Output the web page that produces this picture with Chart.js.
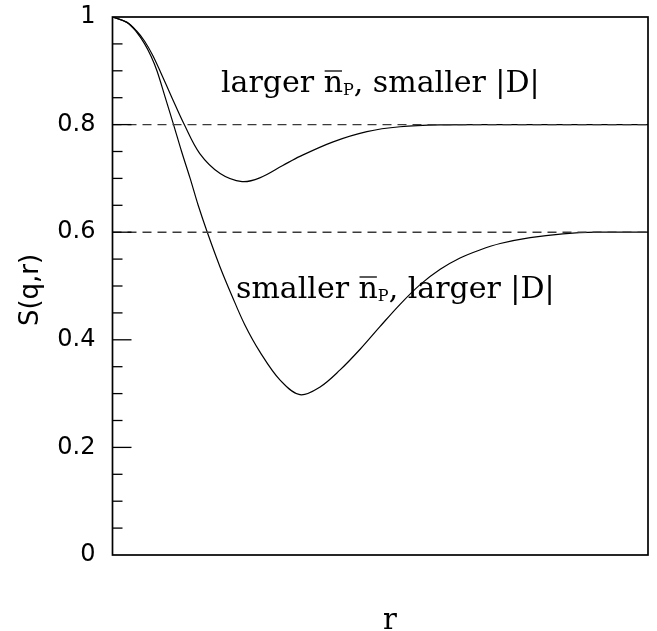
<!DOCTYPE html>
<html>
<head>
<meta charset="utf-8">
<script src="https://cdn.jsdelivr.net/npm/chart.js@4.4.1/dist/chart.umd.min.js"></script>
<style>
  html, body { margin: 0; padding: 0; background: #ffffff; }
  #wrap { width: 657px; height: 631px; }
</style>
</head>
<body>
<div id="wrap"><canvas id="c" width="657" height="631"></canvas></div>
<script>
// ---- data ----
const rUpper = [0, 0.27, 0.45, 0.60, 0.75, 0.90, 1.11, 1.34, 1.63, 2.01, 2.42, 2.75, 3.18, 3.50, 4.12, 4.75, 5.37, 6.12, 7.24, 10];
const sUpper = [1.0, 0.99, 0.974, 0.955, 0.929, 0.897, 0.85, 0.80, 0.746, 0.709, 0.694, 0.701, 0.724, 0.741, 0.768, 0.787, 0.796, 0.7995, 0.80, 0.80];

const rLower = [0, 0.27, 0.45, 0.60, 0.72, 0.83, 0.98, 1.14, 1.29, 1.45, 1.60, 1.77, 2.01, 2.23, 2.47, 2.75, 3.13, 3.50, 3.87, 4.25, 4.62, 4.99, 5.37, 5.75, 6.12, 6.49, 6.86, 7.24, 7.80, 8.41, 9.05, 10];
const sLower = [1.0, 0.99, 0.972, 0.95, 0.927, 0.90, 0.852, 0.80, 0.75, 0.70, 0.65, 0.60, 0.535, 0.482, 0.428, 0.378, 0.325, 0.298, 0.312, 0.344, 0.382, 0.424, 0.466, 0.503, 0.531, 0.552, 0.567, 0.579, 0.590, 0.597, 0.600, 0.600];

const rRange = [0, 10];
const levelUpper = [0.8, 0.8];
const levelLower = [0.6, 0.6];

const yTickValues = [0, 0.2, 0.4, 0.6, 0.8, 1];
const yTickLabels = ['0', '0.2', '0.4', '0.6', '0.8', '1'];
const yMinorStep = 0.05;

const yTitle = 'S(q,r)';
const xTitle = 'r';
const noteUpper = ['larger ', 'n', 'P', ', smaller |D|'];
const noteLower = ['smaller ', 'n', 'P', ', larger |D|'];

function pts(xs, ys) { return xs.map((x, i) => ({ x: x, y: ys[i] })); }

const SERIF = '"DejaVu Serif", "Liberation Serif", serif';
const SANS = '"DejaVu Sans", "Liberation Sans", sans-serif';

const framePlugin = {
  id: 'frame',
  afterDatasetsDraw(chart) {
    const ctx = chart.ctx;
    const a = chart.chartArea;
    const y = chart.scales.y;
    ctx.save();
    ctx.strokeStyle = '#000';
    ctx.lineWidth = 1.3;
    const n = Math.round(1 / yMinorStep);
    for (let i = 1; i < n; i++) {
      const v = i * yMinorStep;
      const major = yTickValues.some(t => Math.abs(t - v) < 1e-9);
      const py = y.getPixelForValue(v);
      ctx.beginPath();
      ctx.moveTo(a.left, py);
      ctx.lineTo(a.left + (major ? 19 : 10), py);
      ctx.stroke();
    }
    ctx.lineWidth = 1.7;
    ctx.strokeRect(a.left, a.top, a.right - a.left, a.bottom - a.top);
    ctx.restore();
  },
  afterDraw(chart) {
    const ctx = chart.ctx;
    ctx.save();
    ctx.fillStyle = '#000';
    ctx.strokeStyle = '#000';
    ctx.font = '29px ' + SERIF;
    ctx.textAlign = 'center';
    ctx.textBaseline = 'alphabetic';
    ctx.fillText(xTitle, 390, 629);
    ctx.save();
    ctx.translate(31, 290);
    ctx.rotate(-Math.PI / 2);
    ctx.font = '26px ' + SANS;
    ctx.textBaseline = 'middle';
    ctx.fillText(yTitle, 0, 0);
    ctx.restore();

    function note(parts, x0, base) {
      ctx.textAlign = 'left';
      ctx.textBaseline = 'alphabetic';
      let x = x0;
      ctx.font = '30px ' + SERIF;
      ctx.fillText(parts[0], x, base);
      x += ctx.measureText(parts[0]).width;
      const wn = ctx.measureText(parts[1]).width;
      ctx.fillText(parts[1], x, base);
      ctx.lineWidth = 1.3;
      ctx.beginPath();
      ctx.moveTo(x + 1, base - 21);
      ctx.lineTo(x + wn - 1, base - 21);
      ctx.stroke();
      x += wn;
      ctx.font = '16px ' + SERIF;
      ctx.fillText(parts[2], x, base + 3);
      x += ctx.measureText(parts[2]).width;
      ctx.font = '30px ' + SERIF;
      ctx.fillText(parts[3], x, base);
    }
    note(noteUpper, 221, 92);
    note(noteLower, 236, 298);
    ctx.restore();
  }
};

const curveStyle = {
  borderColor: '#000',
  borderWidth: 1.2,
  pointRadius: 0,
  fill: false,
  tension: 0.35
};
const dashStyle = {
  borderColor: '#3a3a3a',
  borderWidth: 1.4,
  borderDash: [9, 6],
  pointRadius: 0,
  fill: false
};

new Chart(document.getElementById('c'), {
  type: 'line',
  data: {
    datasets: [
      Object.assign({ label: 'level 0.8', data: pts(rRange, levelUpper) }, dashStyle),
      Object.assign({ label: 'level 0.6', data: pts(rRange, levelLower) }, dashStyle),
      Object.assign({ label: 'larger n_P', data: pts(rUpper, sUpper) }, curveStyle),
      Object.assign({ label: 'smaller n_P', data: pts(rLower, sLower) }, curveStyle)
    ]
  },
  options: {
    responsive: false,
    animation: false,
    layout: { padding: { left: 0, right: 9, top: 17, bottom: 0 } },
    plugins: { legend: { display: false }, tooltip: { enabled: false } },
    scales: {
      x: {
        type: 'linear', min: rRange[0], max: rRange[1],
        grid: { display: false, drawTicks: false },
        border: { display: false },
        ticks: { display: false },
        afterFit(s) { s.height = 76; s.paddingLeft = 0; s.paddingRight = 0; }
      },
      y: {
        type: 'linear', min: 0, max: 1,
        grid: { display: false, drawTicks: false },
        border: { display: false },
        afterBuildTicks(s) { s.ticks = yTickValues.map(v => ({ value: v })); },
        ticks: {
          color: '#000',
          padding: 17,
          font: { family: SANS, size: 24 },
          callback(v) { const i = yTickValues.findIndex(t => Math.abs(t - v) < 1e-9); return i >= 0 ? yTickLabels[i] : ''; }
        },
        afterFit(s) { s.width = 112.5; s.paddingTop = 0; s.paddingBottom = 0; }
      }
    }
  },
  plugins: [framePlugin]
});
</script>
</body>
</html>
